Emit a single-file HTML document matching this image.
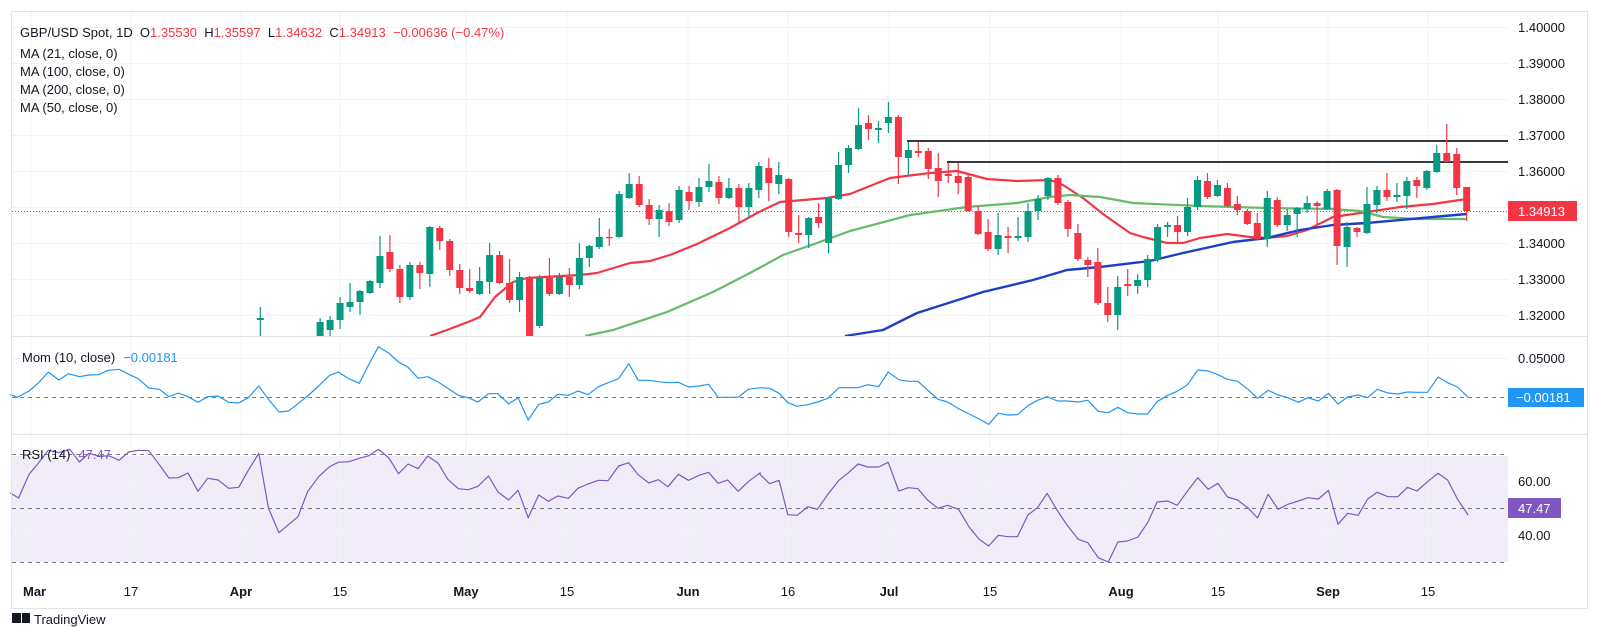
<!DOCTYPE html>
<html><head><meta charset="utf-8"><style>
html,body{margin:0;padding:0;background:#fff;}
svg{display:block;font-family:"Liberation Sans",sans-serif;}
</style></head><body>
<svg id="s" width="1600" height="627" viewBox="0 0 1600 627" xmlns="http://www.w3.org/2000/svg">
<rect x="0" y="0" width="1600" height="627" fill="#fff"/>
<rect x="12" y="456" width="1496" height="106" fill="#7e57c2" fill-opacity="0.11"/>
<g id="grid" stroke="#f0f3fa" stroke-width="1"></g>
<g id="dash" stroke="#787b86" stroke-width="1" stroke-dasharray="4,4"></g>
<line x1="12" y1="211.5" x2="1508" y2="211.5" stroke="#f23645" stroke-width="1" stroke-dasharray="1,2"/>
<g id="lvl" stroke="#363a45" stroke-width="2"></g>
<g id="ma"></g>
<g id="cnd"></g>
<g id="ind"></g>
<rect x="12" y="336" width="1496" height="1" fill="#e0e3eb"/>
<rect x="12" y="434" width="1575" height="1" fill="#e0e3eb"/>
<rect x="12" y="336" width="1575" height="1" fill="#e0e3eb"/>
<rect x="11.5" y="11.5" width="1576" height="597" fill="none" stroke="#e0e3eb"/>
<g id="txt" font-size="13" fill="#131722"></g>
</svg>
<script>
var NS="http://www.w3.org/2000/svg";
function el(p,t,a,txt){var e=document.createElementNS(NS,t);for(var k in a)e.setAttribute(k,a[k]);if(txt!==undefined)e.textContent=txt;document.getElementById(p).appendChild(e);return e;}
var X0=31,D=9.97;function cx(i){return X0+i*D;}
// grid
var vx=[31,131,241,340,466,567,688,788,889,990,1121,1218,1328,1428];
vx.forEach(function(x){el('grid','line',{x1:x,y1:12,x2:x,y2:565});});
var py=function(p){return 171+(1.36-p)*3600;};
[1.40,1.39,1.38,1.37,1.36,1.35,1.34,1.33,1.32].forEach(function(p){var y=Math.round(py(p))+0.5;el('grid','line',{x1:12,y1:y,x2:1508,y2:y});});
el('grid','line',{x1:12,y1:358.5,x2:1508,y2:358.5});
el('grid','line',{x1:12,y1:481.5,x2:1508,y2:481.5});
el('grid','line',{x1:12,y1:535.5,x2:1508,y2:535.5});
// dashed
el('dash','line',{x1:12,y1:397.5,x2:1508,y2:397.5});
[454.5,508.5,562.5].forEach(function(y){el('dash','line',{x1:12,y1:y,x2:1508,y2:y});});
// levels
el('lvl','line',{x1:907,y1:141,x2:1508,y2:141});
el('lvl','line',{x1:947,y1:162,x2:1508,y2:162});
// MAs
function pl(p,pts,col,w){el(p,'polyline',{points:pts.map(function(a){return a.join(',')}).join(' '),fill:'none',stroke:col,'stroke-width':w,'stroke-linejoin':'round'});}
pl('ma',[[430,336],[447,330],[468,322],[480,317],[495,297],[513,282],[527,278],[580,275],[597,273],[630,263],[650,261],[670,255],[697,244],[730,228],[759,212],[780,202],[827,198],[850,194],[890,178],[930,173],[957,171],[987,179],[1017,181],[1050,180],[1063,185],[1083,198],[1103,214],[1130,233],[1143,237],[1167,243],[1183,243],[1200,238],[1227,234],[1250,237],[1267,238],[1287,236],[1307,230],[1333,217],[1367,212],[1400,207],[1433,204],[1453,201],[1467,199]],'#f23645',2.2);
pl('ma',[[585,336],[613,330],[667,312],[713,292],[750,273],[783,255],[817,243],[850,231],[910,215],[967,207],[1017,203],[1050,197],[1070,195],[1100,197],[1133,203],[1200,206],[1267,208],[1333,209],[1360,211],[1383,217],[1417,219],[1467,219]],'#66bb6a',2.2);
pl('ma',[[845,336],[883,330],[917,313],[983,292],[1033,280],[1067,270],[1100,267],[1150,261],[1183,253],[1233,242],[1267,238],[1300,230],[1333,225],[1367,223],[1433,217],[1467,214]],'#1e3fc4',2.4);
// candles: i,color,bodyTop,bodyBot,wickTop,wickBot
var C=`23 g 318 320 307 336
29 g 322 336 318 336
30 g 320 330 316 336
31 g 303 320 297 329
32 g 302 307 283 312
33 g 291 302 290 315
34 g 281 293 280 294
35 g 256 283 236 288
36 r 252 269 235 272
37 r 269 297 265 303
38 g 265 297 262 300
39 r 265 273 262 289
40 g 227 274 226 287
41 r 228 241 226 250
42 r 241 270 239 276
43 r 270 288 264 294
44 r 288 291 269 293
45 g 281 294 267 295
46 g 255 282 243 294
47 r 255 283 251 284
48 r 283 300 259 303
49 g 277 300 272 312
50 r 278 336 276 336
51 g 278 326 275 328
52 r 278 294 258 296
53 g 277 294 273 295
54 r 277 285 268 297
55 g 258 285 243 289
56 g 246 258 245 267
57 g 237 247 218 249
58 r 237 238 229 246
59 g 194 237 191 238
60 g 184 198 173 199
61 r 184 205 176 207
62 r 205 219 199 225
63 g 210 219 205 237
64 r 211 222 203 226
65 g 190 220 186 223
66 r 192 201 186 210
67 g 187 202 178 207
68 g 181 187 164 192
69 r 182 198 176 204
70 g 188 198 178 199
71 r 188 207 184 222
72 g 188 207 183 218
73 g 166 190 162 198
74 r 168 183 158 201
75 g 175 184 162 194
76 r 179 232 178 237
77 r 233 235 215 243
78 g 218 235 217 248
79 r 217 223 203 228
80 g 198 243 197 253
81 g 165 199 152 200
82 g 148 165 145 173
83 g 125 149 108 150
84 r 123 129 115 140
85 g 128 130 121 143
86 g 117 123 102 133
87 r 117 157 115 184
88 g 150 158 142 175
89 r 151 153 142 157
90 r 151 169 148 179
91 r 168 181 153 197
92 r 174 176 163 183
93 r 176 183 163 194
94 r 177 211 175 212
95 r 211 234 206 235
96 r 232 249 219 251
97 g 235 249 213 255
98 r 236 238 227 253
99 g 236 238 217 241
100 g 211 237 203 242
101 g 199 211 195 220
102 g 178 196 177 200
103 r 178 203 175 205
104 r 202 229 200 237
105 r 233 259 224 261
106 r 260 265 257 277
107 r 262 303 248 305
108 r 303 315 287 322
109 g 287 315 276 330
110 r 284 286 269 296
111 g 280 286 274 294
112 g 259 280 255 287
113 g 227 260 224 262
114 g 225 227 222 237
115 r 225 232 216 243
116 g 207 232 198 236
117 g 180 207 176 210
118 r 181 197 173 199
119 g 185 196 180 197
120 r 188 206 183 207
121 r 204 210 196 215
122 r 211 224 209 225
123 r 223 239 213 240
124 g 198 239 191 247
125 r 200 225 197 227
126 g 215 225 209 231
127 g 208 214 207 237
128 g 203 209 196 213
129 r 203 206 201 227
130 g 191 209 189 210
131 r 190 246 189 265
132 g 227 247 222 267
133 r 228 232 227 237
134 g 204 233 187 234
135 g 190 205 186 213
136 r 190 197 173 201
137 g 195 197 183 202
138 g 181 196 177 209
139 r 180 186 177 198
140 g 171 188 170 190
141 g 153 172 145 173
142 r 153 162 124 162
143 r 154 188 148 195
144 r 187 211 187 221`;
C.split('\n').forEach(function(l){var a=l.trim().split(/\s+/);var i=+a[0],col=a[1]=='g'?'#089981':'#f23645';var bt=+a[2],bb=+a[3],wt=+a[4],wb=+a[5];var x=cx(i);
el('cnd','rect',{x:x-0.6,y:wt,width:1.2,height:Math.max(1,wb-wt),fill:col});
el('cnd','rect',{x:x-3.5,y:bt,width:7,height:Math.max(1.2,bb-bt),fill:col});});
// indicators
function conv(base,arr){return arr.map(function(p){return [(base+p[0]/2.09).toFixed(1),(336+p[1]/3).toFixed(1)];});}
var m1=[[0,175],[15,184],[40,165],[60,140],[80,108],[102,132],[122,113],[145,122],[165,117],[185,116],[205,103],[228,100],[248,115],[268,128],[290,156],[312,160],[332,182],[352,171],[372,182],[393,199],[413,182],[435,180],[457,199],[478,201],[498,185],[520,150],[540,190],[562,228],[582,225],[602,203],[622,180],[645,150],[668,118],[686,108],[708,128],[730,142],[750,85],[770,32],[792,52],[812,78],[832,94],[853,127],[873,122],[895,138],[915,157],[937,178],[958,185],[978,198],[1000,173],[1020,173],[1042,204],[1062,185],[1083,252],[1105,205],[1125,198],[1145,175],[1167,178],[1187,165],[1208,176],[1230,152],[1250,140],[1272,128],[1293,83],[1313,133],[1335,133],[1355,137],[1375,140],[1397,139],[1418,153],[1440,150],[1460,145],[1480,184],[1500,184],[1522,184],[1543,160],[1568,155]];
var m2=[[0,155],[20,157],[40,172],[58,200],[78,211],[100,206],[120,198],[142,187],[165,155],[185,155],[205,155],[225,146],[248,152],[268,108],[290,131],[310,136],[330,136],[350,162],[372,190],[392,198],[415,218],[437,234],[458,249],[478,265],[498,232],[518,237],[538,236],[560,209],[580,193],[600,182],[622,195],[642,195],[665,198],[685,193],[707,226],[728,230],[748,214],[768,230],[790,234],[810,234],[830,197],[852,178],[872,166],[893,147],[915,102],[937,105],[957,116],[977,130],[998,136],[1020,160],[1040,187],[1062,163],[1083,177],[1103,185],[1125,199],[1145,185],[1167,195],[1188,172],[1208,204],[1228,183],[1250,177],[1270,185],[1290,160],[1312,171],[1333,174],[1353,168],[1373,169],[1395,169],[1417,123],[1437,140],[1458,153],[1480,184]];
var r1=[[0,470],[18,486],[40,415],[60,380],[80,343],[102,350],[125,340],[145,378],[165,352],[185,360],[208,360],[228,373],[248,348],[268,343],[290,344],[310,382],[332,426],[352,425],[372,411],[393,466],[413,427],[435,432],[457,457],[478,454],[498,403],[520,352],[540,516],[562,590],[582,566],[602,542],[622,467],[645,422],[668,392],[686,379],[708,377],[730,367],[750,359],[770,340],[792,366],[812,413],[832,384],[853,398],[873,360],[895,382],[915,430],[937,458],[958,461],[978,451],[1000,420],[1020,468],[1042,492],[1062,463],[1083,545],[1105,477],[1125,496],[1145,480],[1167,487],[1187,457],[1208,444],[1230,433],[1250,434],[1272,390],[1293,380],[1313,416],[1335,441],[1355,431],[1375,452],[1397,415],[1418,433],[1440,418],[1460,409],[1480,442],[1500,432],[1522,466],[1543,437],[1568,410]];
var r2=[[0,415],[20,443],[40,433],[58,536],[78,538],[100,512],[120,520],[142,475],[165,433],[185,410],[205,384],[225,393],[248,393],[268,379],[290,465],[310,455],[330,458],[350,492],[372,517],[392,508],[415,520],[437,573],[458,610],[478,630],[498,598],[518,602],[538,602],[560,537],[580,515],[600,472],[622,525],[642,568],[665,610],[685,620],[707,665],[728,678],[748,618],[768,615],[790,603],[810,560],[830,498],[852,495],[872,508],[893,466],[915,425],[937,460],[957,442],[977,483],[998,492],[1020,516],[1040,546],[1062,475],[1083,520],[1103,505],[1125,495],[1145,485],[1167,489],[1188,463],[1208,565],[1228,532],[1250,538],[1270,489],[1290,469],[1312,482],[1333,482],[1353,454],[1373,465],[1395,437],[1417,412],[1437,432],[1458,490],[1480,537]];
pl('ind',conv(10,m1).concat(conv(760,m2)),'#2196f3',1.2);
pl('ind',conv(10,r1).concat(conv(760,r2)),'#7e57c2',1.2);
// text
function t(x,y,s,o){var a={x:x,y:y};for(var k in o)a[k]=o[k];return el('txt','text',a,s);}
var h=t(20,37,'');
h.innerHTML='<tspan>GBP/USD Spot, 1D  O</tspan><tspan fill="#f23645">1.35530</tspan><tspan>  H</tspan><tspan fill="#f23645">1.35597</tspan><tspan>  L</tspan><tspan fill="#f23645">1.34632</tspan><tspan>  C</tspan><tspan fill="#f23645">1.34913  −0.00636 (−0.47%)</tspan>';
h.setAttribute('xml:space','preserve');h.style.whiteSpace='pre';
t(20,58,'MA (21, close, 0)');t(20,76,'MA (100, close, 0)');t(20,94,'MA (200, close, 0)');t(20,112,'MA (50, close, 0)');
var m=t(22,362,'');m.innerHTML='<tspan>Mom (10, close)</tspan><tspan fill="#2196f3" dx="8">−0.00181</tspan>';
var r=t(22,459,'');r.innerHTML='<tspan>RSI (14)</tspan><tspan fill="#7e57c2" dx="8">47.47</tspan>';
[['1.40000',1.40],['1.39000',1.39],['1.38000',1.38],['1.37000',1.37],['1.36000',1.36],['1.34000',1.34],['1.33000',1.33],['1.32000',1.32]].forEach(function(a){t(1518,py(a[1])+5,a[0]);});
t(1518,363,'0.05000');t(1518,486,'60.00');t(1518,540,'40.00');
el('txt','rect',{x:1508,y:201,width:69,height:20,fill:'#f23645'});t(1518,216,'1.34913',{fill:'#fff'});
el('txt','rect',{x:1508,y:388,width:76,height:19,fill:'#2196f3'});t(1516,402,'−0.00181',{fill:'#fff'});
el('txt','rect',{x:1508,y:498,width:53,height:20,fill:'#7e57c2'});t(1518,513,'47.47',{fill:'#fff'});
var xl=[['Mar',31,1],['17',131],['Apr',241,1],['15',340],['May',466,1],['15',567],['Jun',688,1],['16',788],['Jul',889,1],['15',990],['Aug',1121,1],['15',1218],['Sep',1328,1],['15',1428]];
xl.forEach(function(a){t(a[0]==='Mar'?a[1]-8:a[1],596,a[0],{'text-anchor':a[0]==='Mar'?'start':'middle','font-weight':a[2]?'bold':'normal'});});
el('txt','rect',{x:12,y:613,width:9,height:10,fill:'#131722'});
el('txt','rect',{x:22,y:613,width:8,height:10,fill:'#131722'});
t(34,624,'TradingView',{fill:'#131722'});
</script>
</body></html>
